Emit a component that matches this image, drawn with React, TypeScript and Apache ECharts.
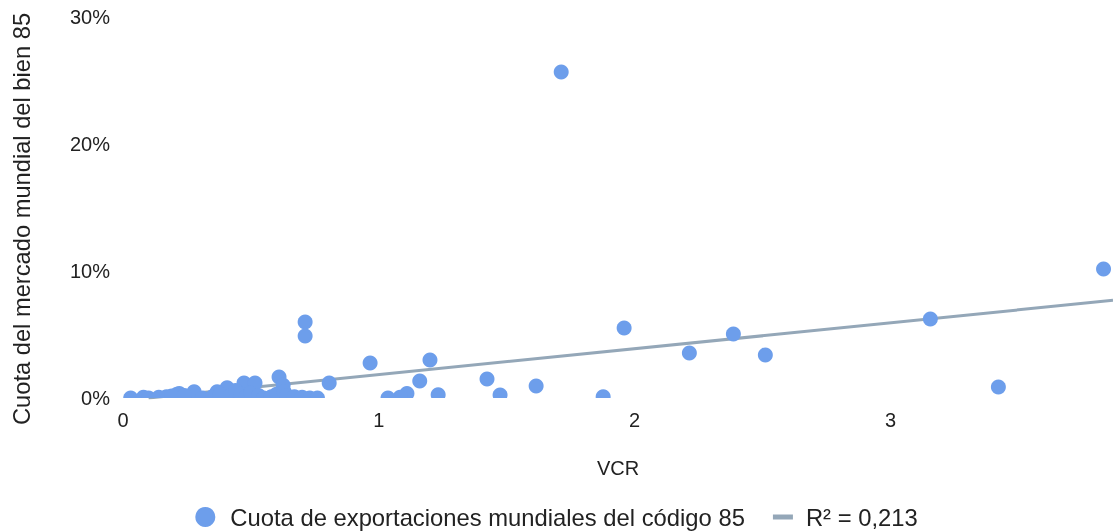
import React, { useEffect, useRef } from "react";
import * as echarts from "echarts";

const seriesName = "Cuota de exportaciones mundiales del código 85";
const trendName = "R² = 0,213";
const xAxisTitle = "VCR";
const yAxisTitle = "Cuota del mercado mundial del bien 85";

// VCR values (x) and world share in % (y)
const vcrValues = [
  1.713, 3.833, 3.156, 3.422, 2.511, 2.386, 2.214, 1.959, 1.877, 1.615,
  1.474, 1.423, 1.2, 1.16, 1.232, 0.966, 1.11, 1.083, 1.036, 0.712,
  0.712, 0.806, 0.61, 0.626, 0.473, 0.516, 0.407, 0.368, 0.278, 0.211,
  0.22, 0.03, 0.08, 0.1, 0.14, 0.17, 0.19, 0.24, 0.31, 0.35,
  0.38, 0.42, 0.44, 0.46, 0.48, 0.5, 0.53, 0.55, 0.58, 0.6,
  0.63, 0.64, 0.67, 0.7, 0.73, 0.76,
];
const shareValues = [
  25.67, 10.16, 6.22, 0.87, 3.39, 5.04, 3.54, 5.51, 0.1, 0.94,
  0.24, 1.5, 2.99, 1.34, 0.25, 2.76, 0.35, 0.05, 0.0, 5.98,
  4.88, 1.18, 1.65, 1.0, 1.18, 1.18, 0.8, 0.5, 0.5, 0.3,
  0.35, 0.0, 0.05, 0.0, 0.05, 0.1, 0.15, 0.2, 0.0, 0.1,
  0.3, 0.2, 0.6, 0.3, 0.1, 0.4, 0.2, 0.0, 0.1, 0.3,
  0.5, 0.2, 0.1, 0.05, 0.0, 0.0,
];

const trendSlope = 2.04;
const trendIntercept = -0.2;
const trendXStart = 0.1;

const xMin = 0;
const xMax = 3.87;
const xInterval = 1;
const yMin = 0;
const yMax = 30;
const yInterval = 10;

const POINT_COLOR = "#6d9eeb";
const TREND_COLOR = "#94a7b8";
const TEXT_COLOR = "#222222";
const FONT = "Liberation Sans, Arial, sans-serif";

export default function App() {
  const ref = useRef<HTMLDivElement>(null);

  useEffect(() => {
    if (!ref.current) return;
    const chart = echarts.init(ref.current, null, { renderer: "svg" });

    const points = vcrValues.map((x, i) => [x, shareValues[i]]);
    const trend = [trendXStart, xMax].map((x) => [x, trendIntercept + trendSlope * x]);

    chart.setOption({
      animation: false,
      textStyle: { fontFamily: FONT },
      grid: {
        left: 123,
        right: 0,
        top: 17,
        bottom: 134,
        containLabel: false,
        outerBoundsMode: "none",
      },
      legend: {
        left: "center",
        top: 500,
        itemWidth: 40,
        itemHeight: 20,
        itemGap: 16,
        textStyle: { fontSize: 23.8, color: TEXT_COLOR, fontFamily: FONT },
        data: [
          { name: seriesName, icon: "circle" },
          {
            name: trendName,
            icon: "path://M0,0 M12,7.5 L32,7.5 L32,12.5 L12,12.5 Z M40,20",
            itemStyle: { color: TREND_COLOR },
          },
        ],
      },
      xAxis: {
        type: "value",
        min: xMin,
        max: xMax,
        interval: xInterval,
        name: xAxisTitle,
        nameLocation: "middle",
        nameGap: 60,
        nameTextStyle: { fontSize: 20, color: TEXT_COLOR, fontFamily: FONT },
        axisLine: { show: false },
        axisTick: { show: false },
        splitLine: { show: false },
        axisLabel: {
          fontSize: 20,
          color: TEXT_COLOR,
          margin: 12,
          showMaxLabel: false,
          fontFamily: FONT,
        },
      },
      yAxis: {
        type: "value",
        min: yMin,
        max: yMax,
        interval: yInterval,
        name: yAxisTitle,
        nameLocation: "middle",
        nameGap: 89,
        nameTextStyle: {
          fontSize: 23.7,
          color: TEXT_COLOR,
          fontFamily: FONT,
          padding: [0, 23, 0, 0],
        },
        axisLine: { show: false },
        axisTick: { show: false },
        splitLine: { show: false },
        axisLabel: {
          fontSize: 20,
          color: TEXT_COLOR,
          margin: 13,
          formatter: "{value}%",
          fontFamily: FONT,
        },
      },
      series: [
        {
          name: trendName,
          type: "line",
          data: trend,
          symbol: "none",
          z: 1,
          lineStyle: { color: TREND_COLOR, width: 3 },
          itemStyle: { color: TREND_COLOR },
        },
        {
          name: seriesName,
          type: "custom",
          clip: true,
          z: 3,
          data: points,
          itemStyle: { color: POINT_COLOR },
          renderItem: (params: any, api: any) => {
            const p = api.coord([api.value(0), api.value(1)]);
            return {
              type: "circle",
              shape: { cx: p[0], cy: p[1], r: 7.5 },
              style: { fill: POINT_COLOR },
            };
          },
        },
      ],
    });

    return () => {
      chart.dispose();
    };
  }, []);

  return (
    <div
      ref={ref}
      style={{ position: "fixed", left: 0, top: 0, width: 1113, height: 532 }}
    />
  );
}
